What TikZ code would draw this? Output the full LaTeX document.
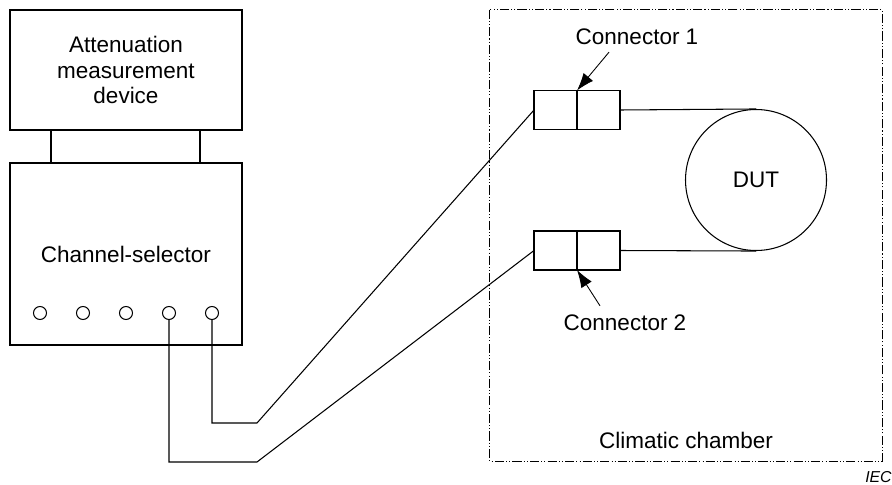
\documentclass[tikz,border=0pt]{standalone}
\usepackage{fontspec}
\setmainfont{Liberation Sans}
\usetikzlibrary{arrows.meta,positioning,calc}

\begin{document}
\begin{tikzpicture}[
  txt/.style  ={font=\fontsize{12.8}{14.6}\selectfont,align=center},
  unit/.style ={draw,line width=0.6pt,rectangle,inner sep=0pt,txt},
  port/.style ={draw,line width=0.6pt,circle,minimum size=0.26cm,inner sep=0pt},
  half/.style ={draw,line width=0.6pt,rectangle,inner sep=0pt,outer sep=0pt,
                minimum width=0.86cm,minimum height=0.78cm},
  wire/.style ={line width=0.6pt},
  pointer/.style={line width=0.5pt,-{Latex[length=10pt,width=7pt]}},
  chamberline/.style={line width=0.6pt,
    dash pattern=on 5.2pt off 1.2pt on 0.6pt off 1.2pt on 0.6pt off 1.2pt},
  x=1cm, y=1cm
]
\useasboundingbox (0,0) rectangle (17.84,-9.7);

%% Left side: instrument + channel selector
\node[unit,minimum width=4.64cm,minimum height=2.4cm]  (amd) at (2.52,-1.4)
  {Attenuation\\measurement\\device};
\node[unit,minimum width=4.64cm,minimum height=3.64cm] (cs)  at (2.52,-5.08)
  {Channel-selector};

\draw[wire] ([xshift=-1.5cm]amd.south) -- ([xshift=-1.5cm]cs.north);
\draw[wire] ([xshift=1.48cm]amd.south) -- ([xshift=1.48cm]cs.north);

%% ports
\foreach \i in {1,...,5}
  \node[port] (p\i) at ({0.8+0.86*(\i-1)},-6.26) {};

%% Right side: climatic chamber
\node[draw=none,minimum width=7.84cm,minimum height=9.02cm,inner sep=0pt]
  (chamber) at (13.72,-4.71) {};
\draw[chamberline] (chamber.north west) rectangle (chamber.south east);
\node[txt,above=0.12cm of chamber.south] (chlbl) {Climatic chamber};

%% connectors
\node[half] (c1a) at (11.11,-2.2)  {};
\node[half,right=0pt of c1a] (c1b) {};
\node[half] (c2a) at (11.11,-5.01) {};
\node[half,right=0pt of c2a] (c2b) {};

\node[draw,line width=0.6pt,circle,minimum size=2.82cm,inner sep=0pt,txt]
  (dut) at (15.12,-3.6) {DUT};

\draw[wire] (c1b.east) -- (dut.north);
\draw[wire] (c2b.east) -- (dut.south);

%% labels
\node[txt] (lab1) at (12.74,-0.74) {Connector 1};
\node[txt] (lab2) at (12.5,-6.46)  {Connector 2};
\draw[pointer] ($(lab1.south)+(-0.56,-0.02)$) -- (c1a.north east);
\draw[pointer] ($(lab2.north)+(-0.5,0.06)$) -- (c2a.south east);

%% cables
\coordinate (k1) at (5.14,-8.46);
\coordinate (k2) at (5.14,-9.24);
\draw[wire] (p5.south) |- (k1) -- (c1a.west);
\draw[wire] (p4.south) |- (k2) -- (c2a.west);

\node[font=\fontsize{9}{10}\selectfont\itshape,anchor=east,inner sep=0pt]
  (iec) at (17.84,-9.55) {IEC};
\end{tikzpicture}
\end{document}
